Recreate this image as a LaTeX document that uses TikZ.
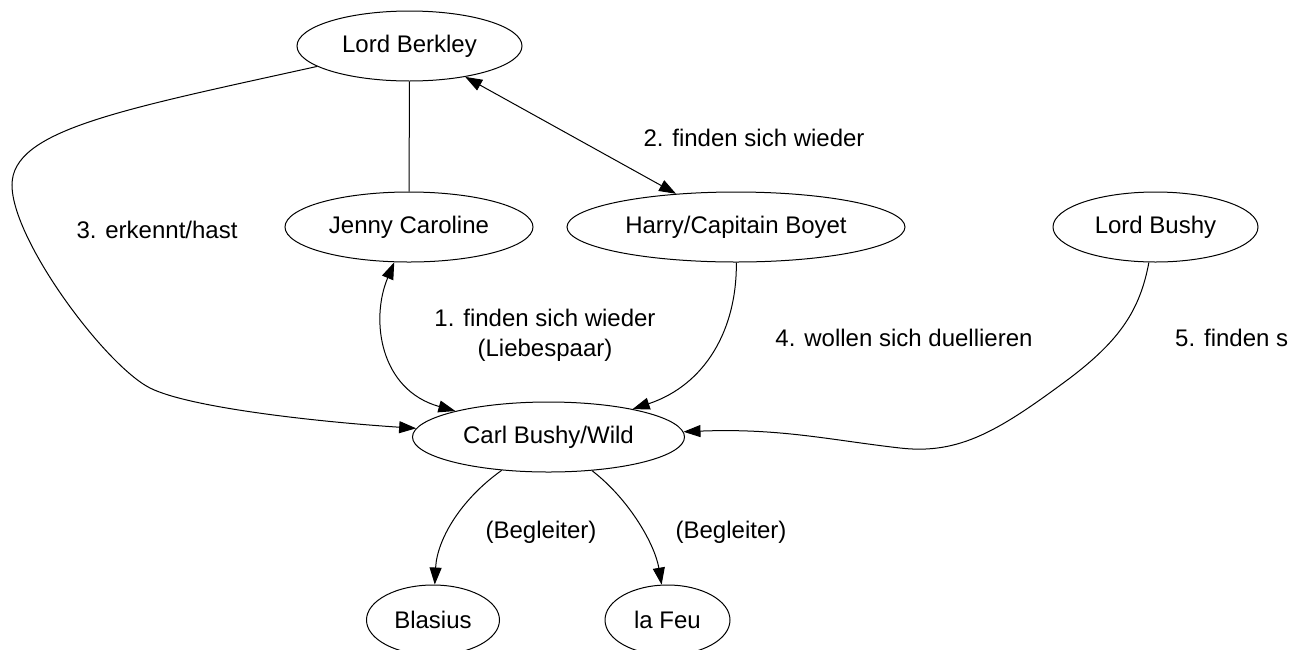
\documentclass[tikz,border=0pt]{standalone}
\usepackage{fontspec}
\setmainfont{Liberation Sans}
\usetikzlibrary{shapes.geometric,arrows.meta}
\begin{document}
\begin{tikzpicture}[x=1pt,y=-1pt,
  person/.style={ellipse,draw,line width=1pt,inner sep=0pt,minimum height=70pt,font=\fontsize{24}{29}\selectfont},
  lbl/.style={font=\fontsize{24}{30}\selectfont,align=center,inner sep=0pt},
  conn/.style={line width=1pt},
  tip/.style={conn,-{Triangle[length=17pt,width=12pt]}},
  tips/.style={conn,{Triangle[length=17pt,width=12pt]}-{Triangle[length=17pt,width=12pt]}}]
\useasboundingbox (0,0) rectangle (1302,649);
% nodes
\node[person,minimum width=225pt] (berkley) at (409.5,46) {Lord Berkley};
\node[person,minimum width=248pt] (jenny) at (409,227) {Jenny Caroline};
\node[person,minimum width=338pt] (harry) at (736,227) {Harry/Capitain Boyet};
\node[person,minimum width=205pt] (bushy) at (1155.5,227) {Lord Bushy};
\node[person,minimum width=272pt] (carl) at (548.5,437) {Carl Bushy/Wild};
\node[person,minimum width=133pt] (blasius) at (433,620) {Blasius};
\node[person,minimum width=125pt] (lafeu) at (667.5,620) {la Feu};
% labels
\node[lbl] (l2) at (754,138) {2. finden sich wieder};
\node[lbl] (l3) at (157,230) {3. erkennt/hast};
\node[lbl] (l1) at (545,335) {1. finden sich wieder\\(Liebespaar)};
\node[lbl] (l4) at (904,338) {4. wollen sich duellieren};
\node[lbl,anchor=west] (l5) at (1175,338) {5. finden s};
\node[lbl] (lb1) at (541,532) {(Begleiter)};
\node[lbl] (lb2) at (731,532) {(Begleiter)};
% connectors
\draw[conn] (berkley) -- (jenny);
\draw[tips] (berkley) -- (harry);
\draw[tip] (berkley) .. controls (120,110) and (12,130) .. (12,185)
  .. controls (12,240) and (105,365) .. (150,388)
  .. controls (190,408) and (320,422) .. (carl);
\draw[tips] (jenny) .. controls (370,320) and (380,390) .. (carl);
\draw[tip] (harry) .. controls (737,330) and (705,385) .. (carl);
\draw[tip] (bushy) .. controls (1140,310) and (1120,340) .. (1070,378)
  .. controls (1000,430) and (960,455) .. (900,448)
  .. controls (830,440) and (780,428) .. (carl);
\draw[tip] (carl) .. controls (460,500) and (437,540) .. (blasius);
\draw[tip] (carl) .. controls (630,500) and (655,545) .. (lafeu);
\end{tikzpicture}
\end{document}
